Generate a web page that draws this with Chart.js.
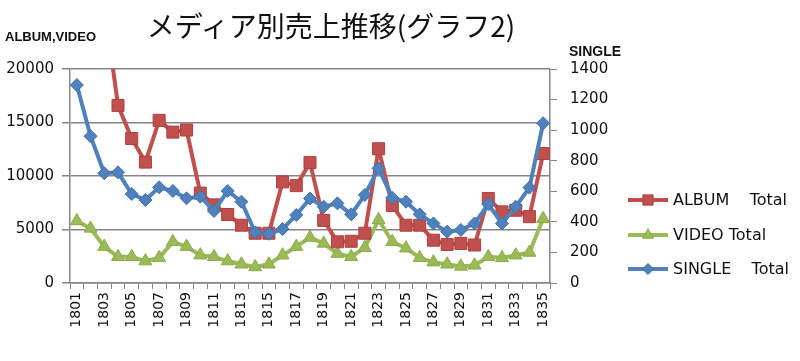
<!DOCTYPE html>
<html>
<head>
<meta charset="utf-8">
<script src="https://cdn.jsdelivr.net/npm/chart.js@4/dist/chart.umd.min.js"></script>
<style>
  html, body { margin: 0; padding: 0; background: #ffffff; }
  #wrap { position: relative; width: 800px; height: 361px; overflow: hidden; }
  #title { position: absolute; left: 0; top: 4px; width: 662px; text-align: center;
           font-family: "Noto Sans CJK JP", sans-serif; font-size: 28px; line-height: 42px; color: #111; }
  .axt { position: absolute; font-family: "Liberation Sans", Arial, sans-serif; font-weight: bold;
         font-size: 13px; color: #111; line-height: 16px; }
  canvas { position: absolute; left: 0; top: 0; }
</style>
</head>
<body>
<div id="wrap">
  <canvas id="c" width="800" height="361"></canvas>
  <div id="title">メディア別売上推移(グラフ2)</div>
  <div class="axt" style="left:5px; top:29px;">ALBUM,VIDEO</div>
  <div class="axt" style="left:569px; top:43px; font-size:14px;">SINGLE</div>
</div>
<script>
// ---- data ----
const years = ['1801','1802','1803','1804','1805','1806','1807','1808','1809','1810',
               '1811','1812','1813','1814','1815','1816','1817','1818','1819','1820',
               '1821','1822','1823','1824','1825','1826','1827','1828','1829','1830',
               '1831','1832','1833','1834','1835'];
const seriesNames = ['ALBUM    Total', 'VIDEO Total', 'SINGLE    Total'];
const albumTotal = [30000, 28000, 26000, 16600, 13500, 11300, 15200, 14100, 14300, 8400,
                    7300, 6400, 5400, 4650, 4650, 9450, 9100, 11250, 5850, 3850,
                    3900, 4650, 12550, 7250, 5400, 5400, 4000, 3600, 3700, 3550,
                    7900, 6650, 6800, 6200, 12100];
const videoTotal = [5800, 5100, 3400, 2450, 2450, 2050, 2350, 3850, 3400, 2600,
                    2450, 2050, 1750, 1500, 1750, 2600, 3400, 4250, 3700, 2750,
                    2450, 3300, 5900, 3850, 3250, 2350, 1950, 1750, 1550, 1650,
                    2450, 2350, 2600, 2850, 6000];
const singleTotal = [1295, 960, 718, 724, 582, 543, 626, 602, 554, 565,
                     471, 602, 532, 332, 322, 353, 445, 553, 499, 521,
                     449, 576, 750, 558, 532, 449, 390, 336, 347, 390,
                     515, 390, 499, 624, 1045];
const leftTicks = [0, 5000, 10000, 15000, 20000];
const rightTicks = [0, 200, 400, 600, 800, 1000, 1200, 1400];

const RED = '#C0504D', GREEN = '#9BBB59', BLUE = '#4F81BD';
const GRID = '#868686';
const tickFont = { family: 'DejaVu Sans', size: 15 };

const legendPlugin = {
  id: 'sideLegend',
  afterDraw(chart) {
    const ctx = chart.ctx;
    const rows = [200, 235, 269];
    ctx.save();
    [0, 1, 2].forEach((di, k) => {
      const ds = chart.data.datasets[di];
      const y = rows[k];
      ctx.strokeStyle = ds.borderColor;
      ctx.lineWidth = 4;
      ctx.beginPath();
      ctx.moveTo(628, y);
      ctx.lineTo(668, y);
      ctx.stroke();
      ctx.fillStyle = ds.pointBackgroundColor;
      ctx.strokeStyle = ds.pointBorderColor;
      ctx.lineWidth = 1;
      Chart.helpers.drawPoint(ctx, { pointStyle: ds.pointStyle, radius: ds.pointRadius * 0.85, borderWidth: 1 }, 648, y);
      ctx.fillStyle = '#111';
      ctx.font = '16px "DejaVu Sans"';
      ctx.textBaseline = 'middle';
      ctx.textAlign = 'left';
      ctx.fillText(ds.label, 673, y + 1);
    });
    ctx.restore();
  }
};

new Chart(document.getElementById('c'), {
  type: 'line',
  data: {
    labels: years,
    datasets: [
      { label: seriesNames[0], data: albumTotal, yAxisID: 'y', order: 2,
        borderColor: RED, backgroundColor: RED, borderWidth: 4,
        pointStyle: 'rect', pointRadius: 8.5, pointBackgroundColor: RED, pointBorderColor: '#B0403D',
        pointBorderWidth: 1, tension: 0, clip: { left: 10, right: 10, top: 0, bottom: 10 } },
      { label: seriesNames[1], data: videoTotal, yAxisID: 'y', order: 3,
        borderColor: GREEN, backgroundColor: GREEN, borderWidth: 4,
        pointStyle: 'triangle', pointRadius: 7.5, pointBackgroundColor: GREEN, pointBorderColor: '#8CAB4A',
        pointBorderWidth: 1, tension: 0, clip: { left: 10, right: 10, top: 0, bottom: 10 } },
      { label: seriesNames[2], data: singleTotal, yAxisID: 'y1', order: 1,
        borderColor: BLUE, backgroundColor: BLUE, borderWidth: 4,
        pointStyle: 'rectRot', pointRadius: 6.5, pointBackgroundColor: BLUE, pointBorderColor: '#4071AD',
        pointBorderWidth: 1, tension: 0, clip: { left: 10, right: 10, top: 0, bottom: 10 } }
    ]
  },
  options: {
    responsive: false,
    animation: false,
    devicePixelRatio: 1,
    layout: { padding: { top: 69, left: 0, right: 0, bottom: 0 } },
    plugins: { legend: { display: false }, tooltip: { enabled: false }, title: { display: false } },
    elements: { line: { borderJoinStyle: 'round' } },
    scales: {
      x: {
        type: 'category',
        offset: true,
        grid: { offset: true, drawOnChartArea: false, drawTicks: true, tickLength: 6, color: GRID, lineWidth: 1 },
        border: { display: true, color: GRID, width: 1.5 },
        ticks: {
          autoSkip: false, minRotation: 90, maxRotation: 90, padding: 3,
          color: '#111', font: { family: 'DejaVu Sans', size: 14 },
          callback: (v, i) => (i % 2 === 0 ? years[i] : '')
        },
        afterFit: (s) => { s.height = 78; }
      },
      y: {
        position: 'left', min: 0, max: 20000,
        afterBuildTicks: (s) => { s.ticks = leftTicks.map(v => ({ value: v })); },
        grid: { color: GRID, lineWidth: 1.5, drawTicks: true, tickLength: 8 },
        border: { display: true, color: GRID, width: 1.5 },
        ticks: { color: '#111', font: tickFont, padding: 8, callback: (v) => String(v) },
        afterFit: (s) => { s.width = 70; }
      },
      y1: {
        position: 'right', min: 0, max: 1400,
        afterBuildTicks: (s) => { s.ticks = rightTicks.map(v => ({ value: v })); },
        grid: { drawOnChartArea: false, drawTicks: true, tickLength: 7, color: GRID, lineWidth: 1 },
        border: { display: true, color: GRID, width: 1.5 },
        ticks: { color: '#111', font: tickFont, padding: 13, callback: (v) => String(v) },
        afterFit: (s) => { s.width = 250; }
      }
    }
  },
  plugins: [legendPlugin]
});
</script>
</body>
</html>
